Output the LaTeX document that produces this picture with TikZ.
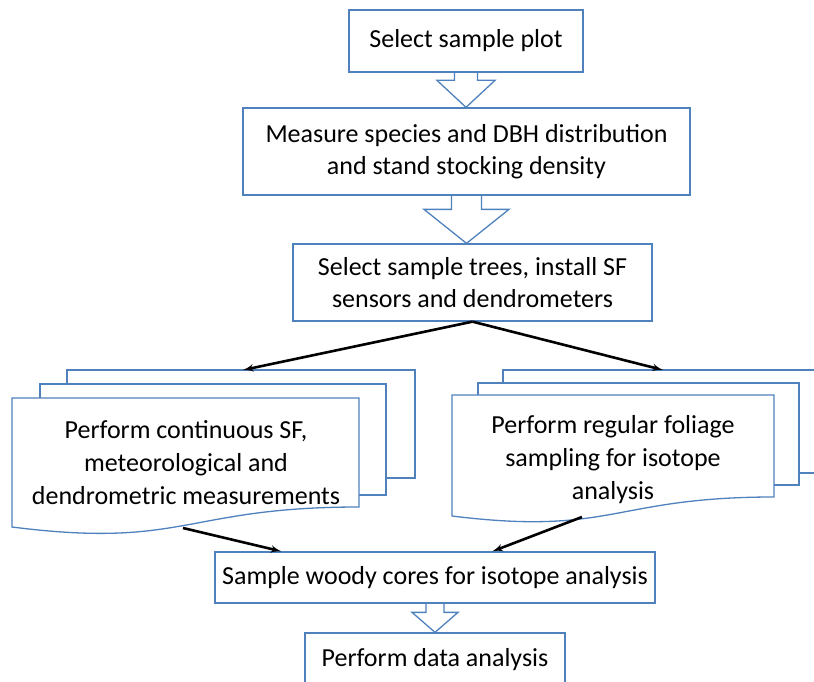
\documentclass[tikz,border=0pt]{standalone}
\usepackage{fontspec}
\setmainfont{Carlito}
\usetikzlibrary{arrows}

\definecolor{boxblue}{RGB}{79,129,189}

\newcommand{\blockarrow}[5]{% source, target, stem half width, head half width, head length
\coordinate (tip) at (#1.south |- #2.north);
\draw[hollow] ([xshift=-#3pt]#1.south) -- ([xshift=-#3pt,yshift=#5pt]tip) -- ([xshift=-#4pt,yshift=#5pt]tip) -- (tip) -- ([xshift=#4pt,yshift=#5pt]tip) -- ([xshift=#3pt,yshift=#5pt]tip) -- ([xshift=#3pt]#1.south);
}

\begin{document}
\begin{tikzpicture}[x=1pt,y=-1pt]

\tikzset{box/.style = {shape=rectangle,draw=boxblue,line width=1.3pt,fill=white,align=center,inner sep=2pt,font=\fontsize{26}{32}\selectfont}}
\tikzset{page/.style = {draw=boxblue,line width=1.3pt,fill=white}}
\tikzset{hollow/.style = {draw=boxblue,line width=1.3pt,line join=miter}}
\tikzset{flow/.style = {->,> = latex',line width=2.6pt}}
\tikzset{doctext/.style = {align=center,font=\fontsize{26}{33}\selectfont}}

\useasboundingbox (0,0) rectangle (814,682);

%boxes
\node[box, minimum width=234pt, minimum height=62pt] (plot) at (466,41) {Select sample plot};
\node[box, minimum width=447pt, minimum height=87pt] (stand) at (466.5,151.5) {Measure species and DBH distribution\\and stand stocking density};
\node[box, minimum width=359pt, minimum height=77pt] (trees) at (472.5,282.5) {Select sample trees, install SF\\sensors and dendrometers};

%left stack of pages
\draw[page] (67,370) rectangle (415,478);
\draw[page] (40,384) rectangle (386,495);
\draw[page] (12,398) -- (359,398) -- (359,507) .. controls (185,507) and (185,549) .. (12,527) -- cycle;
\node[doctext] (contsf) at (186,463) {Perform continuous SF,\\meteorological and\\dendrometric measurements};

%right stack of pages
\draw[page] (503,370) rectangle (830,473);
\draw[page] (478,383) rectangle (799,485);
\draw[page] (452,395) -- (774,395) -- (774,497) .. controls (613,497) and (613,536) .. (452,516) -- cycle;
\node[doctext] (foliage) at (613,460) {Perform regular foliage\\sampling for isotope\\analysis};

\node[box, minimum width=440pt, minimum height=51pt] (cores) at (435,577.5) {Sample woody cores for isotope analysis};
\node[box, minimum width=260pt, minimum height=53pt] (analysis) at (435,659.5) {Perform data analysis};

%hollow arrows
\blockarrow{plot}{stand}{11.5}{29}{27}
\blockarrow{stand}{trees}{15}{42.5}{34}
\blockarrow{cores}{analysis}{9}{23}{20}

%edges
\coordinate (lback) at (243,370);
\coordinate (rback) at (663,370);
\coordinate (lwave) at (183,528);
\coordinate (rwave) at (582,517);
\draw[flow] (trees.south) -- (lback);
\draw[flow] (trees.south) -- (rback);
\draw[flow] (lwave) -- ([xshift=67pt]cores.north west);
\draw[flow] (rwave) -- ([xshift=278pt]cores.north west);

\end{tikzpicture}
\end{document}
